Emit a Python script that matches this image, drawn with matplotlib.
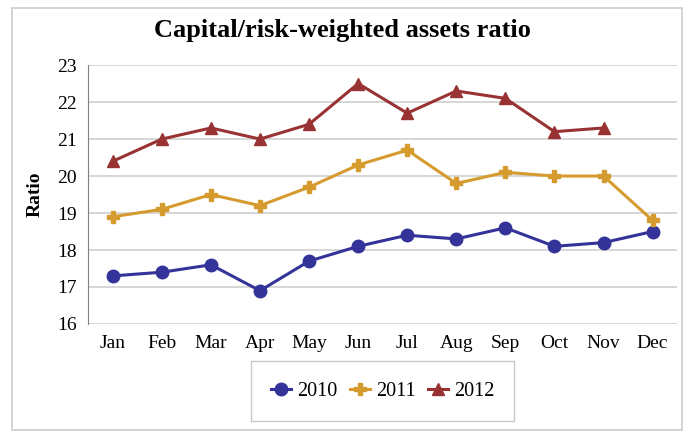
import numpy as np
import matplotlib
matplotlib.use('Agg')
import matplotlib.pyplot as plt
from matplotlib.patches import Rectangle

months = ['Jan', 'Feb', 'Mar', 'Apr', 'May', 'Jun',
          'Jul', 'Aug', 'Sep', 'Oct', 'Nov', 'Dec']
y2010 = [17.3, 17.4, 17.6, 16.9, 17.7, 18.1, 18.4, 18.3, 18.6, 18.1, 18.2, 18.5]
y2011 = [18.9, 19.1, 19.5, 19.2, 19.7, 20.3, 20.7, 19.8, 20.1, 20.0, 20.0, 18.8]
y2012 = [20.4, 21.0, 21.3, 21.0, 21.4, 22.5, 21.7, 22.3, 22.1, 21.2, 21.3, np.nan]

plt.rcParams['font.family'] = ['Liberation Serif', 'DejaVu Serif']

fig = plt.figure(figsize=(6.84, 4.34), dpi=100)
fig.patches.append(Rectangle((12 / 684, 4 / 434), 670 / 684, 422 / 434,
                             transform=fig.transFigure, fill=False,
                             edgecolor='#cccccc', lw=1.2))
ax = fig.add_axes([0.129, 0.2535, 0.861, 0.5965])

x = np.arange(len(months))
ax.plot(x, y2010, '-o', color='#333399', lw=2.2, ms=9, label='2010')
ax.plot(x, y2011, '-P', color='#d69b2e', lw=2.2, ms=9, label='2011')
ax.plot(x, y2012, '-^', color='#993333', lw=2.2, ms=8, label='2012')

ax.set_xlim(-0.5, 11.5)
ax.set_ylim(16, 23)
ax.set_yticks(range(16, 24))
ax.set_xticks(x)
ax.set_xticklabels(months)
ax.tick_params(labelsize=14, length=0, pad=8)
ax.grid(axis='y', color='#d0d0d0', lw=1.2)
ax.set_axisbelow(True)
for s in ['top', 'right', 'bottom']:
    ax.spines[s].set_visible(False)
ax.spines['left'].set_color('#808080')

ax.set_ylabel('Ratio', fontsize=14, fontweight='bold', labelpad=10)
fig.text(0.5, 0.93, 'Capital/risk-weighted assets ratio',
         ha='center', va='center', fontsize=19, fontweight='bold')

leg = ax.legend(loc='center', bbox_to_anchor=(0.5, -0.259), ncol=3,
                fontsize=14.5, frameon=True, fancybox=False,
                handlelength=1.0, handletextpad=0.3, columnspacing=0.6,
                borderpad=1.0)
leg.get_frame().set_edgecolor('#bbbbbb')

fig.savefig('out.png', dpi=100)
